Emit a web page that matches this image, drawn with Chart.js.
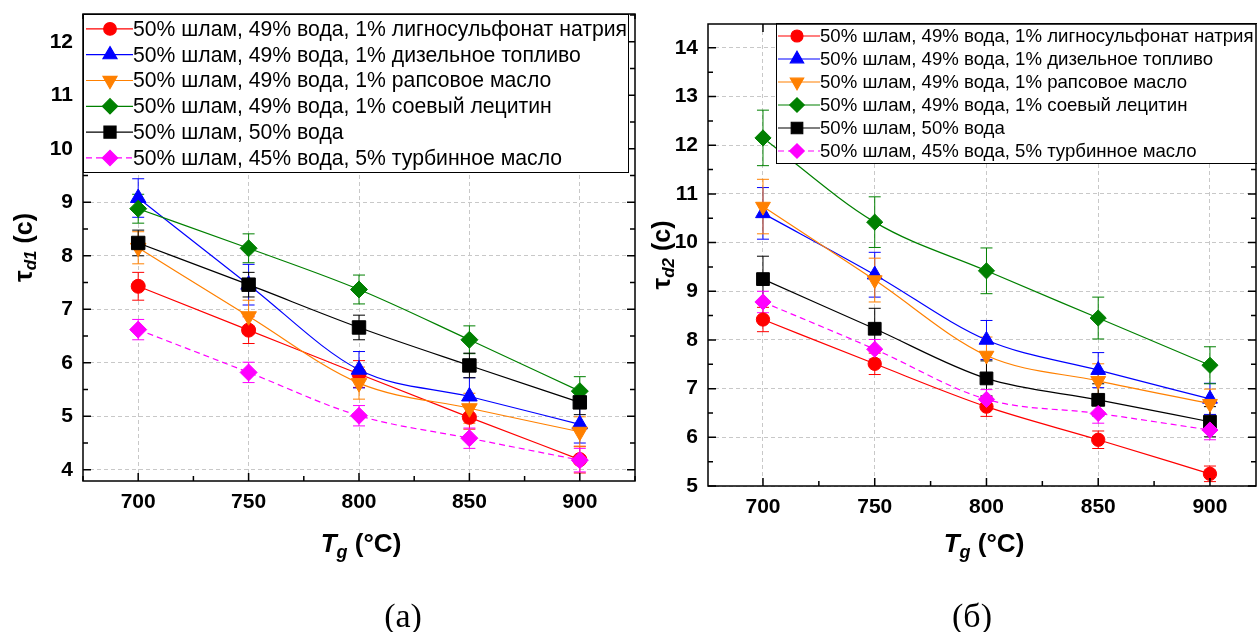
<!DOCTYPE html>
<html>
<head>
<meta charset="utf-8">
<script src="https://cdn.jsdelivr.net/npm/chart.js@4.4.0/dist/chart.umd.min.js"></script>
<style>
  html, body { margin: 0; padding: 0; background: #fff; width: 1257px; height: 632px; overflow: hidden; }
  #chartA { position: absolute; left: 0; top: 0; }
  #chartB { position: absolute; left: 640px; top: 0; }
  .cap { position: absolute; top: 599px; width: 100px; margin-left: -50px; text-align: center;
         font: 34px "Liberation Serif", "Times New Roman", serif; line-height: 34px; color: #000; }
</style>
</head>
<body>
<canvas id="chartA" width="640" height="632"></canvas>
<canvas id="chartB" width="617" height="632"></canvas>
<div class="cap" style="left:403px">(а)</div>
<div class="cap" style="left:972px">(б)</div>
<script>
// --- data ---
const temps = [700, 750, 800, 850, 900];
const yTicksA = [4, 5, 6, 7, 8, 9, 10, 11, 12];
const yTicksB = [5, 6, 7, 8, 9, 10, 11, 12, 13, 14];

const seriesNames = [
  '50% шлам, 49% вода, 1% лигносульфонат натрия',
  '50% шлам, 49% вода, 1% дизельное топливо',
  '50% шлам, 49% вода, 1% рапсовое масло',
  '50% шлам, 49% вода, 1% соевый лецитин',
  '50% шлам, 50% вода',
  '50% шлам, 45% вода, 5% турбинное масло'
];

// tau_d1, s (panel a)
const d1Lignin   = [7.43, 6.61, 5.79, 4.98, 4.19];
const d1Diesel   = [9.08, 7.46, 5.87, 5.37, 4.85];
const d1Rapeseed = [8.15, 6.87, 5.62, 5.15, 4.71];
const d1Lecithin = [8.88, 8.14, 7.37, 6.43, 5.47];
const d1Water    = [8.24, 7.46, 6.66, 5.95, 5.26];
const d1Turbine  = [6.62, 5.82, 5.01, 4.59, 4.18];
const d1LigninErr   = [0.26, 0.25, 0.25, 0.22, 0.25];
const d1DieselErr   = [0.36, 0.38, 0.34, 0.35, 0.35];
const d1RapeseedErr = [0.30, 0.30, 0.30, 0.28, 0.28];
const d1LecithinErr = [0.27, 0.27, 0.27, 0.26, 0.27];
const d1WaterErr    = [0.24, 0.23, 0.23, 0.23, 0.23];
const d1TurbineErr  = [0.19, 0.19, 0.19, 0.19, 0.22];

// tau_d2, s (panel b)
const d2Lignin   = [8.42, 7.51, 6.63, 5.95, 5.25];
const d2Diesel   = [10.60, 9.34, 8.00, 7.38, 6.79];
const d2Rapeseed = [10.74, 9.23, 7.68, 7.16, 6.69];
const d2Lecithin = [12.15, 10.42, 9.42, 8.45, 7.48];
const d2Water    = [9.25, 8.23, 7.21, 6.77, 6.32];
const d2Turbine  = [8.78, 7.81, 6.78, 6.49, 6.15];
const d2LigninErr   = [0.25, 0.22, 0.20, 0.18, 0.16];
const d2DieselErr   = [0.53, 0.46, 0.40, 0.36, 0.32];
const d2RapeseedErr = [0.56, 0.45, 0.38, 0.35, 0.30];
const d2LecithinErr = [0.57, 0.52, 0.47, 0.43, 0.38];
const d2WaterErr    = [0.47, 0.42, 0.36, 0.33, 0.31];
const d2TurbineErr  = [0.22, 0.20, 0.20, 0.20, 0.20];

// --- styles ---
const SANS = '"Liberation Sans", Arial, sans-serif';
const markers = [
  { color: '#ff0000', style: 'circle',   rot: 0,   r: 7 },
  { color: '#0000ff', style: 'triangle', rot: 0,   r: 9 },
  { color: '#ff8000', style: 'triangle', rot: 180, r: 9 },
  { color: '#008000', style: 'rectRot',  rot: 0,   r: 8.5 },
  { color: '#000000', style: 'rect',     rot: 0,   r: 9.5 },
  { color: '#ff00ff', style: 'rectRot',  rot: 0,   r: 8.5, dash: [6, 4] }
];

function richText(ctx, parts, cx, cy, baseline) {
  let w = 0;
  parts.forEach(p => { ctx.font = p.font; p.w = ctx.measureText(p.text).width; w += p.w; });
  let x = cx - w / 2;
  ctx.textAlign = 'left';
  ctx.textBaseline = baseline;
  parts.forEach(p => { ctx.font = p.font; ctx.fillText(p.text, x, cy + (p.dy || 0)); x += p.w; });
}

const decor = {
  id: 'decor',
  beforeDatasetsDraw(chart) {
    // error bars
    const { ctx, scales: { x, y } } = chart;
    ctx.save();
    ctx.lineWidth = 1;
    chart.data.datasets.forEach(ds => {
      ctx.strokeStyle = ds.borderColor;
      ds.data.forEach((p, i) => {
        const e = ds.errors[i];
        const px = x.getPixelForValue(p.x);
        const lo = y.getPixelForValue(p.y - e), hi = y.getPixelForValue(p.y + e);
        ctx.beginPath();
        ctx.moveTo(px, lo); ctx.lineTo(px, hi);
        ctx.moveTo(px - 6, lo); ctx.lineTo(px + 6, lo);
        ctx.moveTo(px - 6, hi); ctx.lineTo(px + 6, hi);
        ctx.stroke();
      });
    });
    ctx.restore();
  },
  afterDatasetsDraw(chart, args, opts) {
    const { ctx, chartArea: a, scales: { x, y } } = chart;
    ctx.save();
    // inward ticks on all four sides
    ctx.strokeStyle = '#000';
    ctx.lineWidth = 1.5;
    const tick = (v, len, horiz) => {
      ctx.beginPath();
      if (horiz) {
        const px = x.getPixelForValue(v);
        ctx.moveTo(px, a.bottom); ctx.lineTo(px, a.bottom - len);
        ctx.moveTo(px, a.top); ctx.lineTo(px, a.top + len);
      } else {
        const py = y.getPixelForValue(v);
        ctx.moveTo(a.left, py); ctx.lineTo(a.left + len, py);
        ctx.moveTo(a.right, py); ctx.lineTo(a.right - len, py);
      }
      ctx.stroke();
    };
    for (let v = 675; v <= x.max; v += 25) if (v >= x.min) tick(v, v % 50 === 0 ? 8 : 5, true);
    for (let v = Math.ceil(y.min * 2) / 2; v <= y.max; v += 0.5) tick(v, v % 1 === 0 ? 8 : 5, false);

    // legend box
    const L = opts.legend;
    ctx.fillStyle = '#fff';
    ctx.fillRect(L.x, L.y, L.w, L.h);
    ctx.strokeStyle = '#000';
    ctx.lineWidth = 1;
    ctx.strokeRect(L.x + 0.5, L.y + 0.5, L.w, L.h);
    chart.data.datasets.forEach((ds, i) => {
      const cy = L.y + L.pad + (i + 0.5) * L.row;
      ctx.strokeStyle = ds.borderColor;
      ctx.lineWidth = 1.2;
      ctx.setLineDash(ds.borderDash || []);
      ctx.beginPath(); ctx.moveTo(L.lineX0, cy); ctx.lineTo(L.textX, cy); ctx.stroke();
      ctx.setLineDash([]);
      ctx.fillStyle = ds.backgroundColor;
      Chart.helpers.drawPoint(ctx, { pointStyle: ds.pointStyle, rotation: ds.pointRotation,
        radius: ds.pointRadius * 0.9, borderWidth: 1 }, L.markerX, cy);
      ctx.fillStyle = '#000';
      ctx.font = L.font;
      ctx.textAlign = 'left';
      ctx.textBaseline = 'middle';
      ctx.fillText(ds.label, L.textX, cy + 1);
    });
    ctx.restore();
  },
  afterDraw(chart, args, opts) {
    const { ctx, chartArea: a } = chart;
    ctx.save();
    ctx.strokeStyle = '#000';
    ctx.lineWidth = 1.5;
    ctx.strokeRect(a.left, a.top, a.right - a.left, a.bottom - a.top);
    ctx.fillStyle = '#000';
    richText(ctx, [
      { text: 'T', font: `italic bold 26px ${SANS}` },
      { text: 'g', font: `italic bold 18px ${SANS}`, dy: 6 },
      { text: ' (°C)', font: `bold 26px ${SANS}` }
    ], (a.left + a.right) / 2 + 2, 552, 'alphabetic');
    ctx.translate(opts.yTitleX, (a.top + a.bottom) / 2);
    ctx.rotate(-Math.PI / 2);
    richText(ctx, [
      { text: 'τ', font: `bold 26px ${SANS}` },
      { text: opts.sub, font: `italic bold 17px ${SANS}`, dy: 6 },
      { text: ' (с)', font: `bold 25px ${SANS}` }
    ], 0, 0, 'middle');
    ctx.restore();
  }
};

function makeDatasets(vals, errs, scale) {
  return vals.map((v, i) => ({
    label: seriesNames[i],
    data: temps.map((t, j) => ({ x: t, y: v[j] })),
    errors: errs[i],
    borderColor: markers[i].color,
    backgroundColor: markers[i].color,
    pointBackgroundColor: markers[i].color,
    pointBorderColor: markers[i].color,
    pointStyle: markers[i].style,
    pointRotation: markers[i].rot,
    pointRadius: markers[i].r * scale,
    pointBorderWidth: 1,
    borderWidth: 1.2,
    borderDash: markers[i].dash || [],
    cubicInterpolationMode: 'monotone',
    order: vals.length - i
  }));
}

// keep the plot area exactly where the layout puts it
function noPad(s) { s.paddingTop = 0; s.paddingBottom = 0; s.paddingLeft = 0; s.paddingRight = 0; }

function makeChart(id, vals, errs, o) {
  const grid = { color: '#c8c8c8', lineWidth: 1, drawTicks: false };
  return new Chart(document.getElementById(id), {
    type: 'line',
    data: { datasets: makeDatasets(vals, errs, o.markerScale) },
    options: {
      responsive: false,
      animation: false,
      layout: { padding: o.padding, autoPadding: false },
      scales: {
        x: {
          type: 'linear', min: o.xMin, max: o.xMax,
          afterBuildTicks: s => { s.ticks = temps.map(v => ({ value: v })); },
          afterFit: s => { s.height = o.xHeight; noPad(s); },
          grid, border: { display: false, dash: [4, 3] },
          ticks: { color: '#000', padding: 9, font: { family: SANS, size: 21, weight: 'bold' } }
        },
        y: {
          type: 'linear', min: o.yMin, max: o.yMax,
          afterBuildTicks: s => { s.ticks = o.yTicks.map(v => ({ value: v })); },
          afterFit: s => { s.width = o.yWidth; noPad(s); },
          grid, border: { display: false, dash: [4, 3] },
          ticks: { color: '#000', padding: 10, font: { family: SANS, size: 21, weight: 'bold' } }
        }
      },
      plugins: {
        legend: { display: false },
        tooltip: { enabled: false },
        decor: { legend: o.legend, yTitleX: o.yTitleX, sub: o.sub }
      }
    },
    plugins: [decor]
  });
}

makeChart('chartA',
  [d1Lignin, d1Diesel, d1Rapeseed, d1Lecithin, d1Water, d1Turbine],
  [d1LigninErr, d1DieselErr, d1RapeseedErr, d1LecithinErr, d1WaterErr, d1TurbineErr],
  {
    xMin: 675, xMax: 925, yMin: 3.79, yMax: 12.52, yTicks: yTicksA,
    padding: { top: 14, right: 5, bottom: 0, left: 0 }, xHeight: 151, yWidth: 83,
    markerScale: 1, yTitleX: 25, sub: 'd1',
    legend: { x: 83, y: 14, w: 545, h: 158, pad: 2, row: 25.8, lineX0: 86, markerX: 110, textX: 133,
              font: `21.2px ${SANS}` }
  });

makeChart('chartB',
  [d2Lignin, d2Diesel, d2Rapeseed, d2Lecithin, d2Water, d2Turbine],
  [d2LigninErr, d2DieselErr, d2RapeseedErr, d2LecithinErr, d2WaterErr, d2TurbineErr],
  {
    xMin: 675.4, xMax: 920.6, yMin: 5, yMax: 14.49, yTicks: yTicksB,
    padding: { top: 24, right: 1, bottom: 0, left: 0 }, xHeight: 146, yWidth: 68,
    markerScale: 0.95, yTitleX: 23, sub: 'd2',
    legend: { x: 136, y: 23, w: 490, h: 140, pad: 1.5, row: 23, lineX0: 138, markerX: 157, textX: 180,
              font: `18.6px ${SANS}` }
  });
</script>
</body>
</html>
